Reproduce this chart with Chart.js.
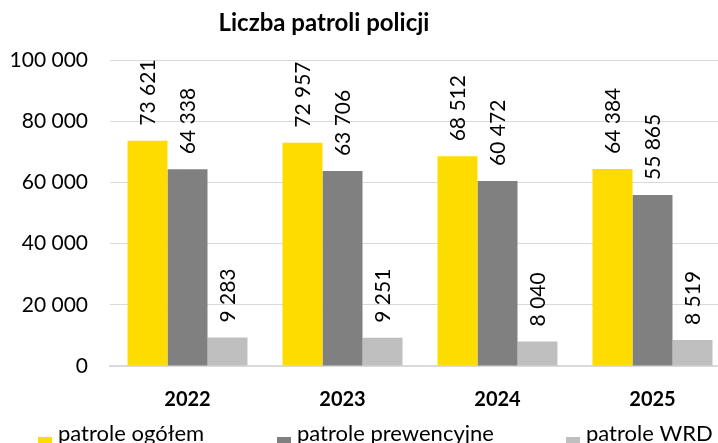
<!DOCTYPE html>
<html>
<head>
<meta charset="utf-8">
<script src="https://cdn.jsdelivr.net/npm/chart.js@4"></script>
<style>
  html, body { margin: 0; padding: 0; background: #fff; overflow: hidden; }
  #wrap { position: relative; width: 740px; height: 443px; }
</style>
</head>
<body>
<div id="wrap"><canvas id="c"></canvas></div>
<script>
const categories = ['2022', '2023', '2024', '2025'];
const seriesNames = ['patrole ogółem', 'patrole prewencyjne', 'patrole WRD'];
const patroleOgolem = [73621, 72957, 68512, 64384];
const patrolePrewencyjne = [64338, 63706, 60472, 55865];
const patroleWRD = [9283, 9251, 8040, 8519];
const chartTitle = 'Liczba patroli policji';
const yMax = 100000;
const yStep = 20000;

const colors = ['#FFDC00', '#808080', '#BFBFBF'];
const FONT = 'Lato, "Open Sans", sans-serif';

function fmt(v) {
  return String(v).replace(/\B(?=(\d{3})+(?!\d))/g, '\u00a0');
}

const labelPlugin = {
  id: 'labels',
  afterDatasetsDraw(chart) {
    const ctx = chart.ctx;
    ctx.save();
    ctx.fillStyle = '#000';
    ctx.font = '21px ' + FONT;
    ctx.textAlign = 'left';
    ctx.textBaseline = 'middle';
    chart.data.datasets.forEach((ds, di) => {
      const meta = chart.getDatasetMeta(di);
      meta.data.forEach((bar, i) => {
        ctx.save();
        ctx.translate(bar.x, bar.y - 15);
        ctx.rotate(-Math.PI / 2);
        ctx.fillText(fmt(ds.data[i]), 0, 1);
        ctx.restore();
      });
    });
    ctx.restore();
  },
  afterDraw(chart) {
    const ctx = chart.ctx;
    ctx.save();
    // title
    ctx.fillStyle = '#000';
    ctx.font = 'bold 24px ' + FONT;
    ctx.textAlign = 'center';
    ctx.textBaseline = 'alphabetic';
    ctx.fillText(chartTitle, 324, 31);
    // legend
    const xs = [38, 277, 566];
    ctx.font = '22px ' + FONT;
    ctx.textAlign = 'left';
    chart.data.datasets.forEach((ds, di) => {
      ctx.fillStyle = ds.backgroundColor;
      ctx.fillRect(xs[di], 437, 14, 14);
      ctx.fillStyle = '#000';
      ctx.fillText(ds.label, xs[di] + 20, 441);
    });
    ctx.restore();
  }
};

new Chart(document.getElementById('c'), {
  type: 'bar',
  data: {
    labels: categories,
    datasets: [
      { label: seriesNames[0], data: patroleOgolem, backgroundColor: colors[0] },
      { label: seriesNames[1], data: patrolePrewencyjne, backgroundColor: colors[1] },
      { label: seriesNames[2], data: patroleWRD, backgroundColor: colors[2] }
    ]
  },
  options: {
    responsive: true,
    maintainAspectRatio: false,
    animation: false,
    events: [],
    layout: { padding: { left: 0, right: 10, top: 60, bottom: 0 } },
    datasets: { bar: { categoryPercentage: 0.774, barPercentage: 1.0 } },
    plugins: { legend: { display: false }, title: { display: false }, tooltip: { enabled: false } },
    scales: {
      x: {
        grid: { display: false, drawTicks: false },
        border: { display: true, color: '#D9D9D9', width: 2 },
        ticks: { color: '#000', font: { family: FONT, size: 20, weight: 'bold' }, padding: 22 },
        afterFit(s) { s.height = 77; }
      },
      y: {
        min: 0, max: yMax,
        grid: { color: '#D9D9D9', lineWidth: 1, drawTicks: false },
        border: { display: false },
        ticks: {
          stepSize: yStep,
          color: '#000',
          font: { family: FONT, size: 21 },
          padding: 22,
          callback: (v) => fmt(v)
        },
        afterFit(s) { s.width = 110; }
      }
    }
  },
  plugins: [labelPlugin]
});
</script>
</body>
</html>
